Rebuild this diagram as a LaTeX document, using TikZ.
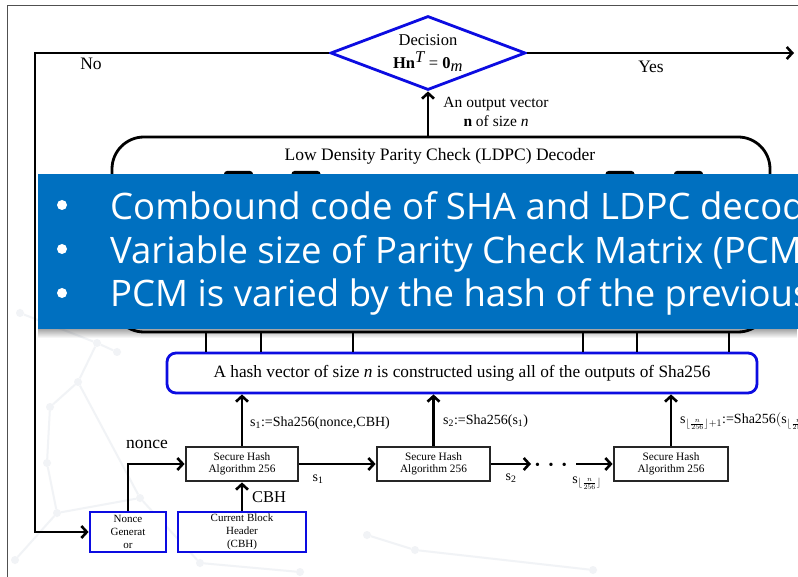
\documentclass[tikz,border=0pt]{standalone}
\usepackage{fontspec}
\setmainfont{Liberation Serif}
\newfontfamily\slidefont{Open Sans}
\usetikzlibrary{shapes.geometric,arrows.meta,fadings,calc}

\definecolor{flowblue}{RGB}{12,12,225}
\definecolor{slideblue}{RGB}{0,112,192}
\definecolor{netgray}{RGB}{241,243,246}
\definecolor{framegray}{RGB}{80,80,80}

\tikzset{
  wire/.style={line width=2.6pt, draw=black},
  link/.style={wire, -{Straight Barb[length=5.5pt,width=12pt]}},
  bluebox/.style={draw=flowblue, line width=2.8pt, fill=white, inner sep=0pt, align=center},
  shabox/.style={draw=black!85, line width=2.8pt, fill=white, minimum width=112pt,
    minimum height=34pt, inner sep=0pt, align=center, font=\fontsize{11.3}{12.5}\selectfont},
  lbl/.style={inner sep=0pt, font=\fontsize{17.5}{20}\selectfont},
  sublbl/.style={inner sep=0pt, font=\fontsize{14}{16}\selectfont},
  smallbox/.style={font=\fontsize{11}{13}\selectfont},
  netline/.style={draw=netgray, line width=2pt},
  netdot/.style={circle, fill=netgray, minimum size=8pt, inner sep=0pt},
  bulletdot/.style={circle, fill=white, minimum size=10pt, inner sep=0pt},
  slideline/.style={anchor=base west, inner sep=0pt, text=white,
    font=\slidefont\fontsize{36.5}{40}\selectfont},
  tab/.style={fill=black, rounded corners=3pt, minimum width=29pt, minimum height=20pt, inner sep=0pt},
}

\begin{document}
\begin{tikzpicture}[x=1pt,y=-1pt]
\useasboundingbox (0,0) rectangle (798,577);
\clip (0,0) rectangle (798,577);
\fill[white] (0,0) rectangle (798,577);

% faint network pattern in the slide background
\foreach \n/\p in {n1/{20,313},n2/{97,343},n3/{117,352},n4/{78,382},n5/{50,407},
                   n6/{47,463},n7/{57,513},n8/{140,498},n9/{200,563},n10/{367,535},
                   n11/{415,550},n12/{593,570},n13/{15,560},n14/{300,572}}
  \node[netdot] (\n) at (\p) {};
\draw[netline] (n1) -- (n2) -- (n3) (n2) -- (n4) -- (n5) -- (n6) -- (n7) -- (n8)
               (n7) -- (n13) (n8) -- (n9) -- (n14) (n10) -- (n11) -- (n12) (n4) -- (n8);

% slide frame
\draw[framegray, line width=1pt] (7,577) -- (7,6) -- (798,6);

% decision
\node[diamond, draw=flowblue, line width=2.8pt, minimum width=195pt, minimum height=74pt,
      shape aspect=2.6, inner sep=0pt, align=center, font=\fontsize{16.5}{24}\selectfont]
  (dec) at (428,53) {Decision\\[-1pt]\textbf{Hn}$^{\textit{T}}$ = \textbf{0}$_{\textit{m}}$};

% LDPC decoder
\node[draw=black, line width=2.8pt, rounded corners=32pt, minimum width=658pt,
      minimum height=195pt, inner sep=0pt] (ldpc) at (441,234.5) {};
\node[lbl] (ldpctitle) at (440,156) {Low Density Parity Check (LDPC) Decoder};
\node[tab] (tab1) at (238.5,181) {};
\node[tab] (tab2) at (306,181) {};
\node[tab] (tab3) at (620,181) {};
\node[tab] (tab4) at (688.5,181) {};

% decoder output to decision
\draw[link] (ldpc.north -| dec.south) -- (dec.south);
\node[lbl, align=center, font=\fontsize{15.5}{19}\selectfont] (outlbl) at (496,112)
  {An output vector\\\textbf{n} of size \textit{n}};

% yes / no branches
\coordinate (yesend) at (794,53);
\draw[link] (dec.east) -- (yesend);
\node[lbl] (yes) at (651,67) {Yes};
\node[lbl] (no) at (91,64) {No};

% hash vector
\node[bluebox, rounded corners=9pt, minimum width=590pt, minimum height=40pt,
      font=\fontsize{17.3}{18}\selectfont] (hash) at (462,373)
  {A hash vector of size \textit{n} is constructed using all of the outputs of Sha256};

% decoder inputs
\foreach \x in {206,261,353,583,637,729}
  \draw[wire] (\x,0 |- ldpc.south) -- (\x,0 |- hash.north);

% SHA256 chain
\node[shabox] (sha1) at (242,464) {Secure Hash\\Algorithm 256};
\node[shabox, minimum width=113pt] (sha2) at (433.5,464) {Secure Hash\\Algorithm 256};
\node[shabox, minimum width=114pt] (sha3) at (671,464) {Secure Hash\\Algorithm 256};

\node[bluebox, smallbox, minimum width=76pt, minimum height=40pt] (ng) at (128,532)
  {Nonce\\Generat\\or};
\node[bluebox, smallbox, minimum width=128pt, minimum height=40pt] (cbh) at (242,532)
  {Current Block\\Header\\(CBH)};

\draw[link] (dec.west) -- (dec.west -| 35,0) |- (ng.west);

\draw[link] (sha1.north) -- (sha1.north |- hash.south);
\draw[link] (sha2.north) -- (sha2.north |- hash.south);
\draw[link] (sha3.north) -- (sha3.north |- hash.south);

\coordinate (d1) at (531,464);
\coordinate (d2) at (576,464);
\node[inner sep=0pt, font=\fontsize{14}{14}\selectfont] (dots) at (551,466)
  {\textbullet\hspace{8.5pt}\textbullet\hspace{8.5pt}\textbullet};
\draw[link] (sha1.east) -- (sha2.west);
\draw[link] (sha2.east) -- (d1);
\draw[link] (d2) -- (sha3.west);

\draw[link] (cbh.north) -- (sha1.south);
\draw[link] (ng.north) |- (sha1.west);

\node[sublbl, anchor=west] (l1) at (250,423) {s\textsubscript{1}:=Sha256(nonce,CBH)};
\node[sublbl, anchor=west] (l2) at (443,421) {s\textsubscript{2}:=Sha256(s\textsubscript{1})};
\node[sublbl, anchor=west] (l3) at (680,421)
  {s$_{\lfloor\frac{n}{256}\rfloor+1}$:=Sha256$\Bigl($s$_{\lfloor\frac{n}{256}\rfloor}\Bigr)$};
\node[sublbl] (ls1) at (318,479) {s\textsubscript{1}};
\node[sublbl] (ls2) at (511,478) {s\textsubscript{2}};
\node[sublbl] (ls3) at (587,483) {s$_{\lfloor\frac{n}{256}\rfloor}$};
\node[lbl] (noncelbl) at (147,444) {nonce};
\node[lbl, anchor=west, font=\fontsize{16.5}{18}\selectfont] (cbhlbl) at (252,497) {CBH};

% slide text panel over the decoder
\node[fill=slideblue, anchor=north west, minimum width=770pt, minimum height=155pt,
      inner sep=0pt] (info) at (38,174) {};
\fill[black, opacity=0.35, path fading=south] (38,329) rectangle (798,338);
\node[bulletdot] (bul1) at (62,205) {};
\node[bulletdot] (bul2) at (62,249) {};
\node[bulletdot] (bul3) at (62,293) {};
\node[slideline] (txt1) at (110,220) {Combound code of SHA and LDPC decoder};
\node[slideline] (txt2) at (110,264) {Variable size of Parity Check Matrix (PCM)};
\node[slideline] (txt3) at (110,307) {PCM is varied by the hash of the previous};
\end{tikzpicture}
\end{document}
